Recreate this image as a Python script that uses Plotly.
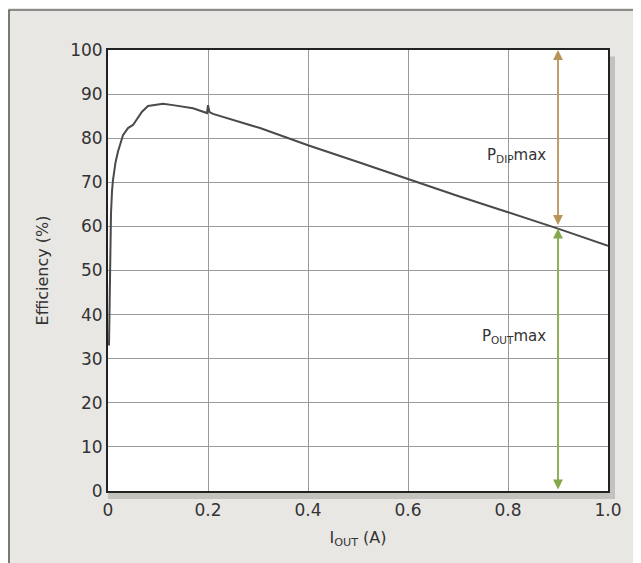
import plotly.graph_objects as go

# Data
i_out = [0.002, 0.003, 0.004, 0.006, 0.008, 0.01, 0.015, 0.02, 0.03, 0.04, 0.05, 0.06,
         0.068, 0.08, 0.095, 0.11, 0.13, 0.15, 0.17, 0.198, 0.2, 0.203, 0.21, 0.304, 0.4,
         0.5, 0.6, 0.7, 0.8, 0.9, 1.0]
efficiency = [33, 45, 56, 63, 68, 70.5, 74.5, 77, 80.7, 82.3, 83, 84.8,
              86, 87.3, 87.5, 87.8, 87.5, 87.1, 86.8, 85.7, 87.5, 85.9, 85.5, 82.3, 78.4,
              74.6, 70.7, 66.9, 63.2, 59.5, 55.6]
x_ticks = [0, 0.2, 0.4, 0.6, 0.8, 1.0]
x_tick_labels = ["0", "0.2", "0.4", "0.6", "0.8", "1.0"]
y_ticks = [0, 10, 20, 30, 40, 50, 60, 70, 80, 90, 100]
arrow_x = 0.9
pdip_range = [60, 100]
pout_range = [0, 60]
labels = ["P<sub>DIP</sub>max", "P<sub>OUT</sub>max"]
label_pos = [(0.816, 76), (0.812, 35)]

fig = go.Figure()
fig.add_trace(go.Scatter(x=i_out, y=efficiency, mode="lines",
                         line=dict(color="#4a4a4a", width=2), showlegend=False))

font_c = "#333333"
fam = "DejaVu Sans, Verdana, sans-serif"
fig.update_layout(
    width=633, height=555,
    margin=dict(l=100, r=33, t=42, b=72),
    paper_bgcolor="#e9e7e4",
    plot_bgcolor="white",
    font=dict(family=fam, color=font_c, size=17),
    xaxis=dict(range=[0, 1.0], tickvals=x_ticks, ticktext=x_tick_labels,
               showgrid=True, gridcolor="#9a9a9a", gridwidth=1,
               showline=True, linecolor="#222", linewidth=2, mirror=True,
               zeroline=False, ticks="", tickfont=dict(size=17), automargin=False,
               ticklabelstandoff=3,
               title=dict(text="I<sub>OUT</sub> (A)", font=dict(size=16), standoff=12)),
    yaxis=dict(range=[0, 100], tickvals=y_ticks,
               showgrid=True, gridcolor="#9a9a9a", gridwidth=1,
               showline=True, linecolor="#222", linewidth=2, mirror=True,
               zeroline=False, ticks="", tickfont=dict(size=17), automargin=False,
               title=dict(text="Efficiency (%)", font=dict(size=16), standoff=18)),
)

# Arrows
fig.add_annotation(x=arrow_x, y=pdip_range[1], ax=arrow_x, ay=pdip_range[0],
                   xref="x", yref="y", axref="x", ayref="y", text="",
                   showarrow=True, arrowhead=2, startarrowhead=2, arrowside="end+start",
                   arrowwidth=1.8, arrowsize=1.1, startarrowsize=1.1, arrowcolor="#b99458")
fig.add_annotation(x=arrow_x, y=pout_range[1] - 0.5, ax=arrow_x, ay=pout_range[0],
                   xref="x", yref="y", axref="x", ayref="y", text="",
                   showarrow=True, arrowhead=2, startarrowhead=2, arrowside="end+start",
                   arrowwidth=1.8, arrowsize=1.1, startarrowsize=1.1, arrowcolor="#86a84c")
for txt, (lx, ly) in zip(labels, label_pos):
    fig.add_annotation(x=lx, y=ly, xref="x", yref="y", text=txt, showarrow=False,
                       font=dict(size=15, color=font_c))

# Plot shadow
fig.add_shape(type="rect", xref="paper", yref="paper", layer="below",
              x0=1.0, x1=1.014, y0=-0.018, y1=0.985,
              line=dict(width=0), fillcolor="#c4c2bf")
fig.add_shape(type="rect", xref="paper", yref="paper", layer="below",
              x0=0.0, x1=1.014, y0=-0.018, y1=0.0,
              line=dict(width=0), fillcolor="#c4c2bf")

# Outer frame
fig.add_shape(type="rect", xref="paper", yref="paper",
              x0=-0.198, x1=1.2, y0=-0.3, y1=1.0907,
              line=dict(color="#333", width=1.2), fillcolor="rgba(0,0,0,0)")

fig.write_html("out.html")
